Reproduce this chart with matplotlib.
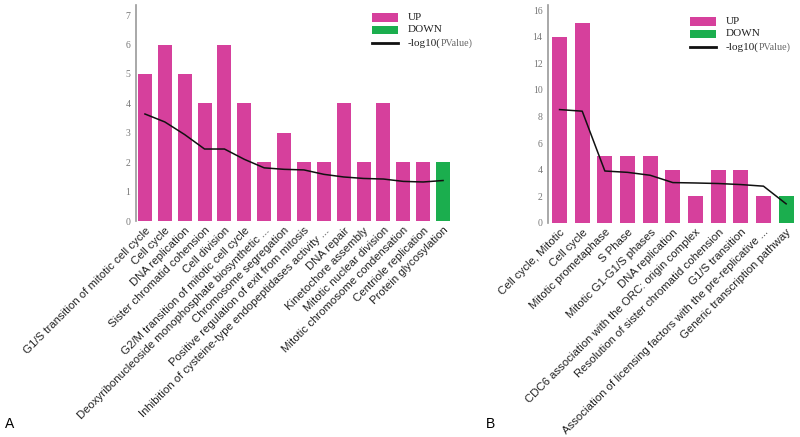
import matplotlib
matplotlib.use("Agg")
import matplotlib.pyplot as plt
import numpy as np
from matplotlib.patches import Rectangle
from matplotlib.lines import Line2D

# Panel A: GO terms
terms_a = [
    "G1/S transition of mitotic cell cycle",
    "Cell cycle",
    "DNA replication",
    "Sister chromatid cohension",
    "Cell division",
    "G2/M transition of mitotic cell cycle",
    "Deoxyribonucleoside monophosphate biosynthetic ...",
    "Chromosome segregation",
    "Positive regulation of exit from mitosis",
    "Inhibition of cysteine-type endopeptidases activity ...",
    "DNA repair",
    "Kinetochore assembly",
    "Mitotic nuclear division",
    "Mitotic chromosome condensation",
    "Centriole replication",
    "Protein glycosylation",
]
counts_a = [5, 6, 5, 4, 6, 4, 2, 3, 2, 2, 4, 2, 4, 2, 2, 2]
dirs_a = ["UP"] * 15 + ["DOWN"]
logp_a = [3.64, 3.37, 2.94, 2.45, 2.45, 2.1, 1.81, 1.76, 1.74, 1.59, 1.5, 1.45, 1.43, 1.35, 1.33, 1.38]

# Panel B: pathways
terms_b = [
    "Cell cycle, Mitotic",
    "Cell cycle",
    "Mitotic prometaphase",
    "S Phase",
    "Mitotic G1-G1/S phases",
    "DNA replication",
    "CDC6 association with the ORC: origin complex",
    "Resolution of sister chromatid cohension",
    "G1/S transition",
    "Association of licensing factors with the pre-replicative ...",
    "Generic transcription pathway",
]
counts_b = [14, 15, 5, 5, 5, 4, 2, 4, 4, 2, 2]
dirs_b = ["UP"] * 10 + ["DOWN"]
logp_b = [8.52, 8.4, 3.9, 3.8, 3.58, 3.03, 3.0, 2.96, 2.88, 2.76, 1.43]

UP_COLOR = "#D6409C"
DOWN_COLOR = "#1BAE4E"
SERIF = ["Liberation Serif", "DejaVu Serif"]
SANS = ["Liberation Sans", "DejaVu Sans"]

W, H = 800, 437
fig = plt.figure(figsize=(8, 4.37), dpi=100)
ax_a = fig.add_axes([0.17, 0.494, 0.395, 0.495])
ax_b = fig.add_axes([0.685, 0.49, 0.309, 0.499])


def draw_panel(ax, terms, counts, dirs, logp, width, xlim, ylim, yticks):
    x = np.arange(len(terms))
    colors = [UP_COLOR if d == "UP" else DOWN_COLOR for d in dirs]
    ax.bar(x, counts, width=width, color=colors, linewidth=0)
    ax.plot(x, logp, color="#111111", linewidth=1.1)
    ax.set_xlim(*xlim)
    ax.set_ylim(*ylim)
    ax.set_yticks(yticks)
    ax.set_yticklabels([str(t) for t in yticks], family=SERIF, fontsize=7, color="#777777")
    ax.set_xticks(x)
    ax.set_xticklabels(terms, rotation=45, ha="right", rotation_mode="anchor",
                       family=SANS, fontsize=8.2, color="#222222")
    ax.tick_params(axis="both", length=0, pad=4)
    ax.tick_params(axis="x", pad=3)
    for s in ["top", "right", "bottom"]:
        ax.spines[s].set_visible(False)
    ax.spines["left"].set_color("#999999")
    ax.spines["left"].set_linewidth(1.2)


draw_panel(ax_a, terms_a, counts_a, dirs_a, logp_a, 0.7, (-0.45, 15.45), (0, 7.35), range(0, 8))
draw_panel(ax_b, terms_b, counts_b, dirs_b, logp_b, 0.66, (-0.51, 10.4), (0, 16.4), range(0, 17, 2))


# legends drawn by hand (pixel positions from top-left)
def legend_at(x0, y0):
    def fx(px):
        return px / W

    def fy(py):
        return 1 - py / H
    fig.patches.append(Rectangle((fx(x0), fy(y0 + 9)), 26 / W, 9 / H, transform=fig.transFigure,
                                 facecolor=UP_COLOR, edgecolor="none"))
    fig.patches.append(Rectangle((fx(x0), fy(y0 + 21)), 26 / W, 8 / H, transform=fig.transFigure,
                                 facecolor=DOWN_COLOR, edgecolor="none"))
    fig.lines.append(Line2D([fx(x0), fx(x0 + 26)], [fy(y0 + 30), fy(y0 + 30)],
                            transform=fig.transFigure, color="#111111", linewidth=2))
    tx = fx(x0 + 36)
    fig.text(tx, fy(y0 + 4.5), "UP", family=SERIF, fontsize=8, va="center", color="#222222")
    fig.text(tx, fy(y0 + 16), "DOWN", family=SERIF, fontsize=8, va="center", color="#222222")
    t = fig.text(tx, fy(y0 + 30), "-log10(", family=SERIF, fontsize=8, va="center", color="#222222")
    # "PValue)" is smaller and grey in the original, placed right after "-log10("
    fig.texts.append(plt.Annotation("PValue)", xy=(1, 0.5), xycoords=t, va="center", ha="left",
                                    family=SERIF, fontsize=7.2, color="#666666"))
    fig.texts[-1].set_figure(fig)


legend_at(372, 13)
legend_at(690, 17)

fig.text(0.006, 0.02, "A", family=SANS, fontsize=10)
fig.text(0.607, 0.02, "B", family=SANS, fontsize=10)

fig.savefig("out.png", dpi=100)
